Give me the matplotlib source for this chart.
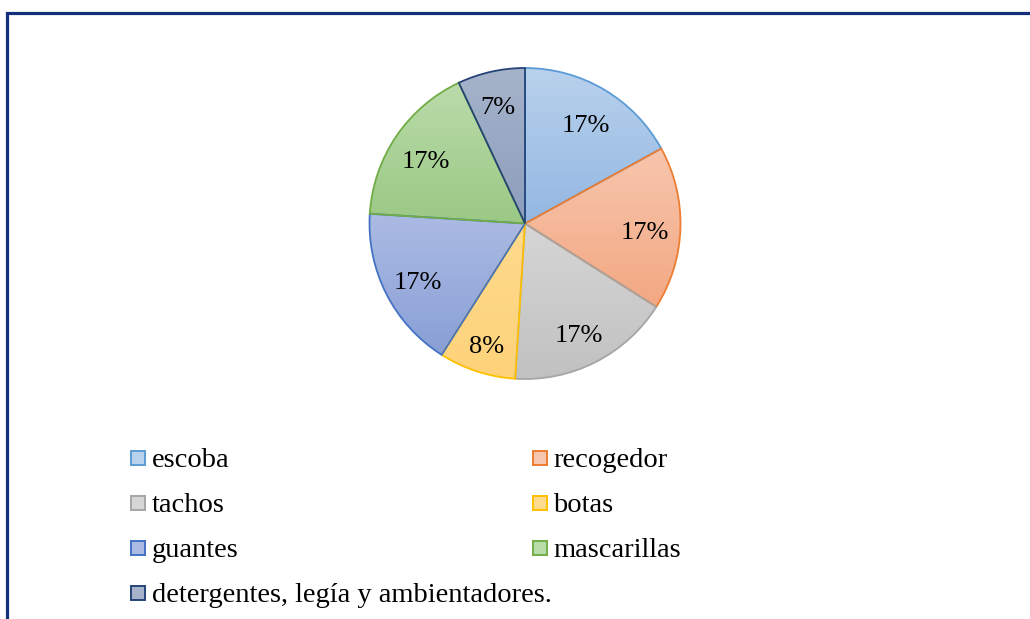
import numpy as np
import matplotlib
matplotlib.use("Agg")
import matplotlib.pyplot as plt
from matplotlib.patches import Rectangle
from matplotlib.colors import LinearSegmentedColormap

plt.rcParams['font.family'] = ['Liberation Serif', 'DejaVu Serif']

# Data
categories = ["escoba", "recogedor", "tachos", "botas", "guantes",
              "mascarillas", "detergentes, legía y ambientadores."]
shares = [17, 17, 17, 8, 17, 17, 7]
pct_labels = ["17%", "17%", "17%", "8%", "17%", "17%", "7%"]

# Styling: (light top colour, darker bottom colour, outline)
fill_top = ["#B9D2ED", "#F7C6AE", "#D6D6D6", "#FFDB8E", "#ACBBE3", "#BADBAA", "#A6B3CA"]
fill_bottom = ["#93B7E2", "#F3A882", "#C1C1C1", "#FDD27A", "#889FD6", "#9BC985", "#8C9EBD"]
edges = ["#5B9BD5", "#ED7D31", "#A5A5A5", "#FFC000", "#4472C4", "#70AD47", "#264478"]

W, H = 1030, 619
fig = plt.figure(figsize=(W / 100, H / 100), dpi=100)

# Outer frame
frame = Rectangle((7 / W, -0.1), 1.2, 1 - 12.5 / H + 0.1, transform=fig.transFigure,
                  fill=False, edgecolor="#13307A", linewidth=2.3, zorder=0)
fig.patches.append(frame)

# Pie axes (limits padded slightly so the outline is not clipped)
cx, cy, r = 525, 223.5, 155.5
pad = 1.03
ax = fig.add_axes([(cx - r * pad) / W, (H - cy - r * pad) / H,
                   2 * r * pad / W, 2 * r * pad / H])
ax.axis("off")

wedges, _ = ax.pie(shares, startangle=90, counterclock=False, radius=1,
                   wedgeprops=dict(linewidth=1.3))

for i, w in enumerate(wedges):
    w.set_edgecolor(edges[i])
    w.set_facecolor("none")
    w.set_zorder(3)
    # vertical gradient inside the slice
    th1, th2 = np.deg2rad(w.theta1), np.deg2rad(w.theta2)
    ang = np.linspace(th1, th2, 50)
    ys = np.concatenate([[0], np.sin(ang)])
    ymin, ymax = ys.min(), ys.max()
    cmap = LinearSegmentedColormap.from_list("g%d" % i, [fill_bottom[i], fill_top[i]])
    grad = np.linspace(0, 1, 256).reshape(-1, 1)
    im = ax.imshow(grad, cmap=cmap, origin="lower", aspect="auto",
                   extent=[-1, 1, ymin, ymax], zorder=2, interpolation="bilinear")
    im.set_clip_path(w)
    # percentage label
    mid = np.deg2rad((w.theta1 + w.theta2) / 2)
    d = 0.77 if shares[i] > 10 else 0.8
    ax.text(d * np.cos(mid), d * np.sin(mid) - 0.02, pct_labels[i], ha="center",
            va="center_baseline", fontsize=19, color="black", zorder=4)
ax.set_xlim(-pad, pad)
ax.set_ylim(-pad, pad)

# Legend laid out in two columns, row-major order
col_x = [138, 540]
row_y = [457.5, 502.5, 547.5, 592.5]
sq = 14
for i, name in enumerate(categories):
    col, row = i % 2, i // 2
    x, y = col_x[col], row_y[row]
    fig.patches.append(Rectangle(((x - sq / 2) / W, (H - y - sq / 2) / H), sq / W, sq / H,
                                 transform=fig.transFigure, facecolor=fill_top[i],
                                 edgecolor=edges[i], linewidth=1.4))
    fig.text((x + 13.5) / W, (H - y) / H, name, ha="left", va="center_baseline",
             fontsize=20.5, color="black")

fig.savefig("out.png", dpi=100)
